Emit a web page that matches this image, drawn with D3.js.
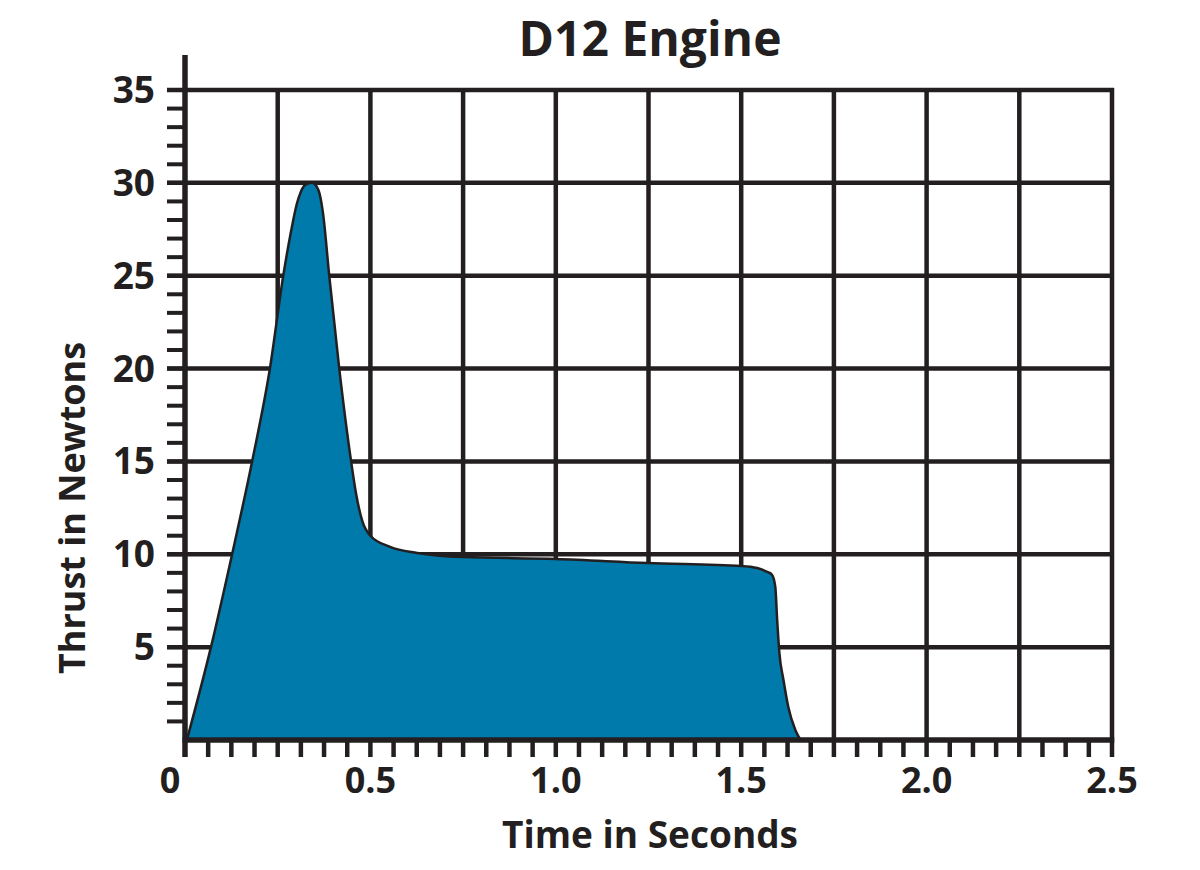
<!DOCTYPE html>
<html>
<head>
<meta charset="utf-8">
<script src="https://cdnjs.cloudflare.com/ajax/libs/d3/7.8.5/d3.min.js"></script>
<style>
  body { margin: 0; background: #fff; }
  text { font-family: "Open Sans", sans-serif; font-weight: 700; fill: #231f20; }
</style>
</head>
<body>
<div id="chart"></div>
<script>
// thrust curve
var timeS = [0.005, 0.07, 0.127, 0.181, 0.229, 0.265, 0.288, 0.302, 0.312, 0.325, 0.343,
             0.36, 0.372, 0.389, 0.416, 0.448, 0.461, 0.478, 0.5, 0.553, 0.626, 0.75,
             1.0, 1.247, 1.5, 1.543, 1.57, 1.583, 1.592, 1.597, 1.603, 1.614, 1.627, 1.646, 1.66];
var thrustN = [0, 5, 10, 15, 20, 25, 27.6, 28.9, 29.5, 29.9, 30,
               29.6, 28.4, 25, 20, 15, 13.3, 11.8, 11.0, 10.4, 10.07, 9.85,
               9.75, 9.53, 9.37, 9.26, 9.05, 8.9, 8.24, 6.46, 4.68, 3.23, 1.78, 0.54, 0];

var xTicks = [0, 0.5, 1.0, 1.5, 2.0, 2.5];
var xTickLabels = ["0", "0.5", "1.0", "1.5", "2.0", "2.5"];
var yTicks = [5, 10, 15, 20, 25, 30, 35];

var ink = "#231f20";
var margin = {top: 90, right: 88, bottom: 130, left: 185};
var width = 1200 - margin.left - margin.right;
var height = 870 - margin.top - margin.bottom;

var svg = d3.select("#chart")
            .append("svg")
              .attr("width", 1200)
              .attr("height", 870);

var g = svg.append("g")
           .attr("transform", "translate(" + margin.left + "," + margin.top + ")");

var x = d3.scaleLinear().domain([0, 2.5]).range([0, width]);
var y = d3.scaleLinear().domain([0, 35]).range([height, 0]);

//grid lines
g.selectAll(".vgrid").data(d3.range(0.25, 2.51, 0.25))
  .enter().append("line")
    .attr("x1", d => x(d)).attr("x2", d => x(d))
    .attr("y1", y(35) - 2).attr("y2", y(0))
    .attr("stroke", ink).attr("stroke-width", 4.5);

g.selectAll(".hgrid").data(yTicks)
  .enter().append("line")
    .attr("x1", -18).attr("x2", x(2.5) + 2)
    .attr("y1", d => y(d)).attr("y2", d => y(d))
    .attr("stroke", ink).attr("stroke-width", 4.5);

//thrust area
var pts = timeS.map((t, i) => [t, thrustN[i]]);
var area = d3.area()
             .x(d => x(d[0]))
             .y0(y(0))
             .y1(d => y(d[1]))
             .curve(d3.curveMonotoneX);
var line = d3.line()
             .x(d => x(d[0]))
             .y(d => y(d[1]))
             .curve(d3.curveMonotoneX);

g.append("path")
  .datum(pts)
  .attr("d", area)
  .attr("fill", "#0079ab");
g.append("path")
  .datum(pts)
  .attr("d", line)
  .attr("fill", "none")
  .attr("stroke", ink)
  .attr("stroke-width", 2.5);

//minor ticks
g.selectAll(".xminor").data(d3.range(1, 41).map(i => i * 0.0625))
  .enter().append("line")
    .attr("x1", d => x(d)).attr("x2", d => x(d))
    .attr("y1", height).attr("y2", height + 17)
    .attr("stroke", ink).attr("stroke-width", 4.5);

g.selectAll(".yminor").data(d3.range(1, 35))
  .enter().append("line")
    .attr("x1", -18).attr("x2", 0)
    .attr("y1", d => y(d)).attr("y2", d => y(d))
    .attr("stroke", ink).attr("stroke-width", 4);

//axes
g.append("line")
  .attr("x1", -2.5).attr("x2", x(2.5) + 2.25)
  .attr("y1", height).attr("y2", height)
  .attr("stroke", ink).attr("stroke-width", 5.5);
g.append("line")
  .attr("x1", 0).attr("x2", 0)
  .attr("y1", -35).attr("y2", height + 17)
  .attr("stroke", ink).attr("stroke-width", 5.5);

//tick labels
g.selectAll(".ylab").data(yTicks)
  .enter().append("text")
    .attr("x", -30)
    .attr("y", d => y(d))
    .attr("dy", "0.35em")
    .attr("text-anchor", "end")
    .style("font-size", "37px")
    .text(d => d);

g.selectAll(".xlab").data(xTicks)
  .enter().append("text")
    .attr("x", (d, i) => i == 0 ? x(d) - 15 : x(d))
    .attr("y", height + 53)
    .attr("text-anchor", "middle")
    .style("font-size", "36px")
    .text((d, i) => xTickLabels[i]);

//titles
svg.append("text")
  .attr("x", 650).attr("y", 56)
  .attr("text-anchor", "middle")
  .style("font-size", "48px")
  .text("D12 Engine");

svg.append("text")
  .attr("x", 650).attr("y", 848)
  .attr("text-anchor", "middle")
  .style("font-size", "37px")
  .text("Time in Seconds");

svg.append("text")
  .attr("transform", "translate(85,508) rotate(-90)")
  .attr("text-anchor", "middle")
  .style("font-size", "36px")
  .text("Thrust in Newtons");
</script>
</body>
</html>
